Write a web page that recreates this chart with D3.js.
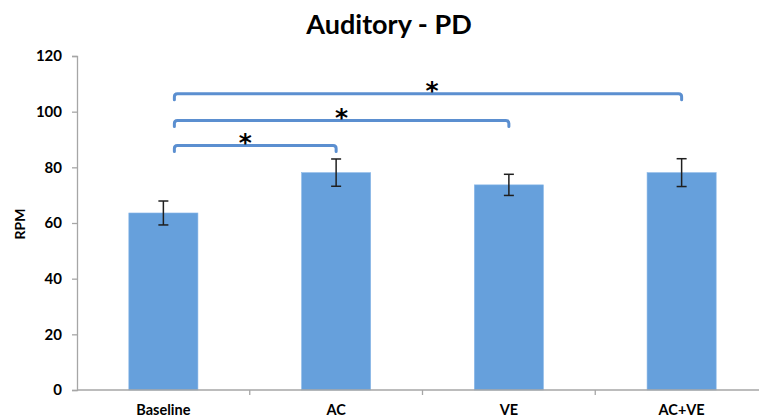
<!DOCTYPE html>
<html>
<head>
<meta charset="utf-8">
<script src="https://cdn.jsdelivr.net/npm/d3@7"></script>
<style>
  body { margin: 0; background: #fff; }
  svg { display: block; }
  text { font-family: Lato, "Open Sans", sans-serif; font-weight: bold; fill: #000; }
</style>
</head>
<body>
<svg id="chart" width="759" height="420"></svg>
<script>
const categories = ["Baseline", "AC", "VE", "AC+VE"];
const values = [63.6, 78.1, 73.7, 78.1];
const errors = [4.3, 4.9, 3.8, 5.0];
const yTicks = [0, 20, 40, 60, 80, 100, 120];
const comparisons = [
  { from: "Baseline", to: "AC", level: 87.8, label: "*" },
  { from: "Baseline", to: "VE", level: 96.8, label: "*" },
  { from: "Baseline", to: "AC+VE", level: 106.4, label: "*" }
];
const title = "Auditory - PD";
const yLabel = "RPM";

const svg = d3.select("#chart");
const plotBottom = 390;
const x = d3.scaleBand().domain(categories).range([77, 768]).paddingInner(0.6).paddingOuter(0.3);
const y = d3.scaleLinear().domain([0, 120]).range([plotBottom, 56]);

const axisColor = "#a6a6a6";

// Title
svg.append("text").attr("x", 389).attr("y", 34).attr("text-anchor", "middle")
  .style("font-size", "27px").text(title);

// Y axis
const yAxis = svg.append("g").attr("transform", "translate(77,0)")
  .call(d3.axisLeft(y).tickValues(yTicks).tickSize(5).tickPadding(10));
yAxis.select(".domain").attr("stroke", axisColor).attr("stroke-width", 1.3);
yAxis.selectAll(".tick line").attr("stroke", axisColor).attr("stroke-width", 1.3);
yAxis.selectAll(".tick text").style("font-size", "15px").style("font-family", "Lato, sans-serif")
  .style("font-weight", "bold").attr("fill", "#000");

// Y label
svg.append("text").attr("transform", "translate(25,224) rotate(-90)")
  .attr("text-anchor", "middle").style("font-size", "14px").text(yLabel);

// Bars
const bw = x.bandwidth();
svg.append("g").selectAll("rect").data(categories).join("rect")
  .attr("x", d => x(d)).attr("width", bw)
  .attr("y", (d, i) => y(values[i])).attr("height", (d, i) => y(0) - y(values[i]))
  .attr("fill", "#66a0dc").attr("stroke", "#8ab8e8").attr("stroke-width", 0.6);

// X axis
const step = x.step();
const xg = svg.append("g");
xg.append("line").attr("x1", 77).attr("x2", 768).attr("y1", plotBottom).attr("y2", plotBottom)
  .attr("stroke", axisColor).attr("stroke-width", 1.3);
xg.selectAll("line.tk").data(categories.slice(1)).join("line").attr("class", "tk")
  .attr("x1", d => x(d) - step * 0.3).attr("x2", d => x(d) - step * 0.3)
  .attr("y1", plotBottom).attr("y2", plotBottom + 5)
  .attr("stroke", axisColor).attr("stroke-width", 1.3);
xg.selectAll("text").data(categories).join("text")
  .attr("x", d => x(d) + bw / 2).attr("y", 415).attr("text-anchor", "middle")
  .style("font-size", "14.5px").text(d => d);

// Error bars
const eb = svg.append("g").attr("stroke", "#1f1f1f").attr("stroke-width", 1.5);
categories.forEach((c, i) => {
  const cx = x(c) + bw / 2;
  eb.append("line").attr("x1", cx).attr("x2", cx).attr("y1", y(values[i] + errors[i])).attr("y2", y(values[i] - errors[i]));
  [values[i] + errors[i], values[i] - errors[i]].forEach(v => {
    eb.append("line").attr("x1", cx - 5).attr("x2", cx + 5).attr("y1", y(v)).attr("y2", y(v));
  });
});

// Significance brackets
const br = svg.append("g");
comparisons.forEach((cmp, k) => {
  const x1 = x(cmp.from) + bw / 2 + 11;
  const x2 = x(cmp.to) + bw / 2;
  const yy = y(cmp.level);
  const r = 3, h = 6;
  const p = `M${x1},${yy + h} L${x1},${yy + r} Q${x1},${yy} ${x1 + r},${yy} L${x2 - r},${yy} Q${x2},${yy} ${x2},${yy + r} L${x2},${yy + h}`;
  br.append("path").attr("d", p).attr("fill", "none").attr("stroke", "#5b8fd0")
    .attr("stroke-width", 3).attr("stroke-linecap", "round").attr("stroke-linejoin", "round");
  br.append("text").attr("x", (x1 + x2) / 2 - (k === 0 ? 10 : 0) + (k === 2 ? 4 : 0)).attr("y", yy + 5)
    .attr("text-anchor", "middle")
    .style("font-family", "'DejaVu Sans', sans-serif")
    .style("font-size", "25px").text(cmp.label);
});
</script>
</body>
</html>
